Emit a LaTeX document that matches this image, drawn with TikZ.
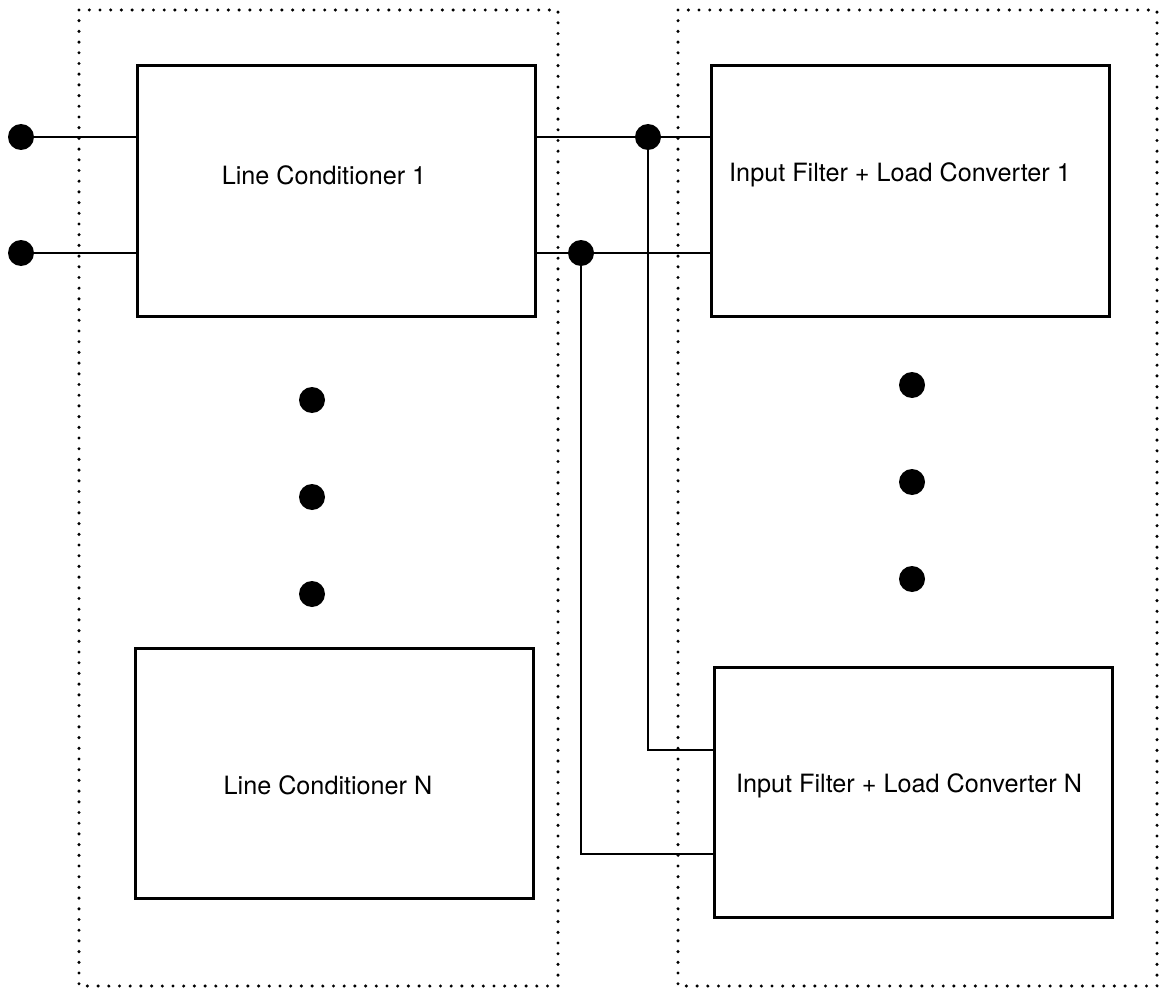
\documentclass[tikz,border=0pt]{standalone}
\usepackage{fontspec}
\setmainfont{TeX Gyre Heros}
\usepackage{tikz}
\usetikzlibrary{positioning, calc}

\begin{document}
\begin{tikzpicture}[x=0.5pt, y=-0.5pt,
  blk/.style={draw, line width=1.5pt, minimum width=199pt, minimum height=125pt, inner sep=0pt},
  lbl/.style={font=\fontsize{12.6}{15}\selectfont, inner sep=0pt},
  grp/.style={line width=1.7pt, line cap=round, dash pattern=on 0pt off 5.35pt},
  wire/.style={line width=1pt},
  jdot/.style={circle, fill=black, minimum size=13pt, inner sep=0pt},
]
  \useasboundingbox (0,0) rectangle (1163,990);
  % converter groups
  \draw[grp] (79,10) rectangle (558,986);
  \draw[grp] (678,10) rectangle (1157,986);
  % line conditioners
  \node[blk] (LC1) at (336,191) {};
  \node[blk] (LCN) at (334,773) {};
  \node[lbl] at ([xshift=-6pt, yshift=8pt]LC1.center) {Line Conditioner 1};
  \node[lbl] at ([xshift=-3pt, yshift=-6pt]LCN.center) {Line Conditioner N};
  % input filters + load converters
  \node[blk] (IF1) at (910,191) {};
  \node[blk] (IFN) at (913,792) {};
  \node[lbl] at ([xshift=-5pt, yshift=8pt]IF1.center) {Input Filter + Load Converter 1};
  \node[lbl] at ([xshift=-2pt, yshift=3pt]IFN.center) {Input Filter + Load Converter N};
  % ellipsis dots
  \foreach \y [count=\i] in {400,497,594}
    \node[jdot] (dl\i) at (312,\y) {};
  \foreach \y [count=\i] in {385,482,579}
    \node[jdot] (dr\i) at (912,\y) {};
  % input terminals
  \node[jdot] (in1) at (21,137) {};
  \node[jdot] (in2) at (21,253) {};
  \draw[wire] (in1) -- (in1 -| LC1.west);
  \draw[wire] (in2) -- (in2 -| LC1.west);
  % bus junctions
  \node[jdot] (j1) at (648,137) {};
  \node[jdot] (j2) at (581,253) {};
  \draw[wire] (j1 -| LC1.east) -- (j1) -- (j1 -| IF1.west);
  \draw[wire] (j2 -| LC1.east) -- (j2) -- (j2 -| IF1.west);
  \draw[wire] (j1) |- ([yshift=21pt]IFN.west);
  \draw[wire] (j2) |- ([yshift=-31pt]IFN.west);
\end{tikzpicture}
\end{document}
